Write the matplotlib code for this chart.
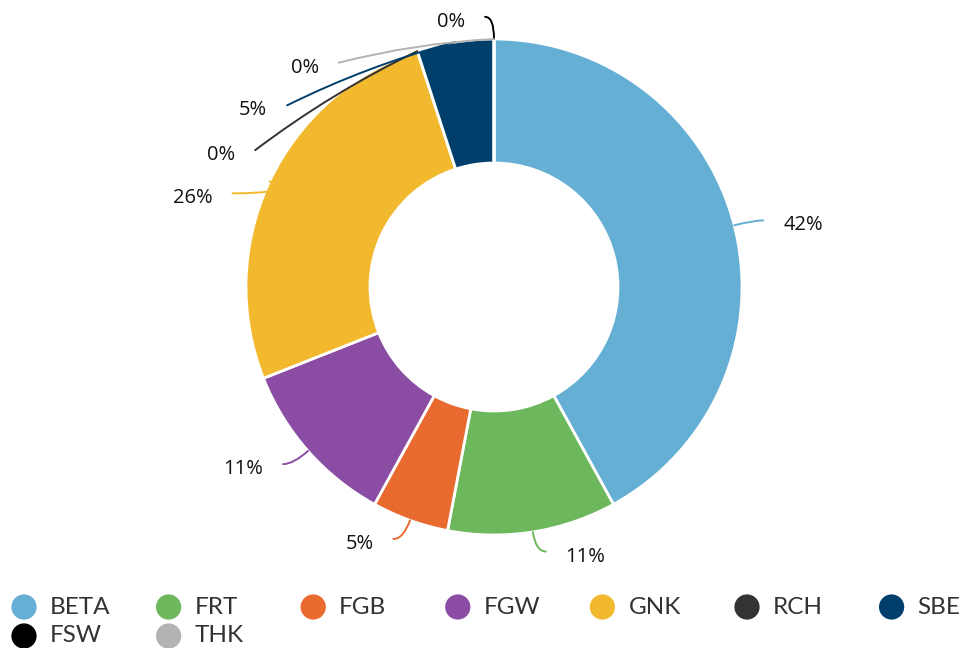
import numpy as np
import matplotlib.pyplot as plt

# Datos del gráfico
categories = ['BETA', 'FRT', 'FGB', 'FGW', 'GNK', 'RCH', 'SBE', 'FSW', 'THK']
values = [42, 11, 5, 11, 26, 0, 5, 0, 0]
colors = ['#65afd5', '#6db85c', '#e86a2f', '#8b4da3', '#f2b92f',
          '#333333', '#003f6b', '#000000', '#b3b3b3']

# Ajustes de etiquetas en la zona saturada: (grados desde arriba en sentido horario, radio)
label_override = {'GNK': (289.7, 1.12), 'RCH': (299.8, 1.11), 'SBE': (311.3, 1.11),
                  'THK': (325.3, 1.10), 'FSW': (358.1, 1.09)}
straight_lines = ['RCH', 'SBE', 'THK']

W, H = 965, 648
cx, cy, R = 494, 287, 248  # centro y radio en píxeles

fig = plt.figure(figsize=(W / 100, H / 100), dpi=100)
ax = fig.add_axes([0, 0, 1, 1])
ax.pie(values, colors=colors, startangle=90, counterclock=False, radius=1,
       wedgeprops=dict(width=0.5, edgecolor='white', linewidth=2))
ax.set_xlim(-cx / R, (W - cx) / R)
ax.set_ylim(-(H - cy) / R, cy / R)
ax.set_aspect('auto')
ax.axis('off')

vals = np.array(values, dtype=float)
cum = np.cumsum(vals) / vals.sum()
mids = (cum - vals / vals.sum() / 2) * 360


def polar(theta, r):
    t = np.radians(theta)
    return r * np.sin(t), r * np.cos(t)


gap = 0.08
for name, val, mid, col in zip(categories, values, mids, colors):
    anchor = polar(mid, 1.0)
    if name in label_override:
        ang, r = label_override[name]
        end = polar(ang, r)
        right = np.sin(np.radians(ang)) > 0
    else:
        ex, ey = polar(mid, 1.08)
        right = np.sin(np.radians(mid)) > 0
        end = (ex + (0.04 if right else -0.04), ey)
    if name in straight_lines:
        cs = 'arc3,rad=-0.05'
    else:
        cs = f'angle3,angleA=0,angleB={90 - mid}'
    ax.annotate('', xy=anchor, xytext=end,
                arrowprops=dict(arrowstyle='-', color=col, lw=1.4, shrinkA=0, shrinkB=0,
                                connectionstyle=cs))
    tx = end[0] + gap if right else end[0] - gap
    ax.text(tx, end[1] - 0.02, f'{val}%', ha='left' if right else 'right', va='center',
            fontsize=14.5, family=['Open Sans', 'DejaVu Sans'], color='#111111')

# Leyenda manual (elementos de ancho fijo, por filas)
lg = fig.add_axes([0, 0, 1, 1], facecolor='none')
lg.set_xlim(0, W)
lg.set_ylim(H, 0)
lg.axis('off')
ncol, item_w, x0, y0, row_h = 7, 144.6, 24, 607, 29
for i, (name, col) in enumerate(zip(categories, colors)):
    x = x0 + (i % ncol) * item_w
    y = y0 + (i // ncol) * row_h
    lg.scatter([x], [y], s=330, color=col, edgecolors='none')
    lg.text(x + 26, y, name, ha='left', va='center', fontsize=17.5,
            family=['Lato', 'DejaVu Sans'], color='#333333')

fig.savefig('out.png', dpi=100)
